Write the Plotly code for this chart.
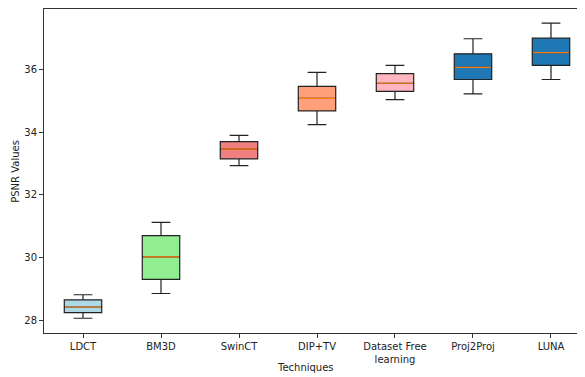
import plotly.graph_objects as go

techniques = ["LDCT", "BM3D", "SwinCT", "DIP+TV", "Dataset Free<br>learning", "Proj2Proj", "LUNA"]
lower_whisker = [28.06, 28.85, 32.93, 34.24, 35.04, 35.22, 35.68]
q1 = [28.24, 29.30, 33.15, 34.68, 35.30, 35.68, 36.13]
median = [28.42, 30.02, 33.46, 35.08, 35.56, 36.07, 36.54]
q3 = [28.65, 30.70, 33.70, 35.46, 35.87, 36.50, 37.00]
upper_whisker = [28.81, 31.12, 33.90, 35.91, 36.13, 36.98, 37.48]
colors = ["#add8e6", "#90ee90", "#f08080", "#ffa07a", "#ffb6c1", "#1f77b4", "#1f77b4"]

BOX_W = 0.48
fig = go.Figure()
for i, name in enumerate(techniques):
    fig.add_trace(go.Box(
        x=[i], q1=[q1[i]], median=[median[i]], q3=[q3[i]],
        lowerfence=[lower_whisker[i]], upperfence=[upper_whisker[i]],
        fillcolor=colors[i], line=dict(color="#222222", width=1.2),
        width=BOX_W, whiskerwidth=0.5, boxpoints=False, showlegend=False,
        hoverinfo="skip",
    ))
    fig.add_trace(go.Scatter(
        x=[i - BOX_W / 2 + 0.01, i + BOX_W / 2 - 0.01], y=[median[i], median[i]],
        mode="lines", line=dict(color="#ff7f0e", width=1.2),
        showlegend=False, hoverinfo="skip",
    ))

font = dict(family="DejaVu Sans", size=10, color="#222222")
# the page body adds an 8px margin, so the figure is sized/offset to compensate
fig.update_layout(
    width=577, height=369,
    margin=dict(l=36, r=0, t=1, b=44),
    plot_bgcolor="white", paper_bgcolor="white",
    font=font,
    annotations=[
        dict(text="Techniques", xref="paper", yref="paper", x=0.483, y=-0.108,
             xanchor="center", yanchor="middle", showarrow=False, font=font),
        dict(text="PSNR Values", xref="paper", yref="paper", x=-0.054, y=0.5,
             xanchor="center", yanchor="middle", showarrow=False, textangle=-90, font=font),
    ],
)
fig.update_xaxes(
    range=[-0.5, 6.436], tickmode="array", tickvals=list(range(len(techniques))),
    ticktext=techniques, showline=True, linecolor="#333333", linewidth=1, mirror=True,
    ticks="outside", ticklen=4, tickcolor="#333333", showgrid=False, zeroline=False,
    automargin=False,
)
fig.update_yaxes(
    range=[27.59, 37.93], tickvals=[28, 30, 32, 34, 36],
    showline=True, linecolor="#333333", linewidth=1,
    ticks="outside", ticklen=4, tickcolor="#333333", showgrid=False, zeroline=False,
    automargin=False,
)
fig.write_html("out.html")
